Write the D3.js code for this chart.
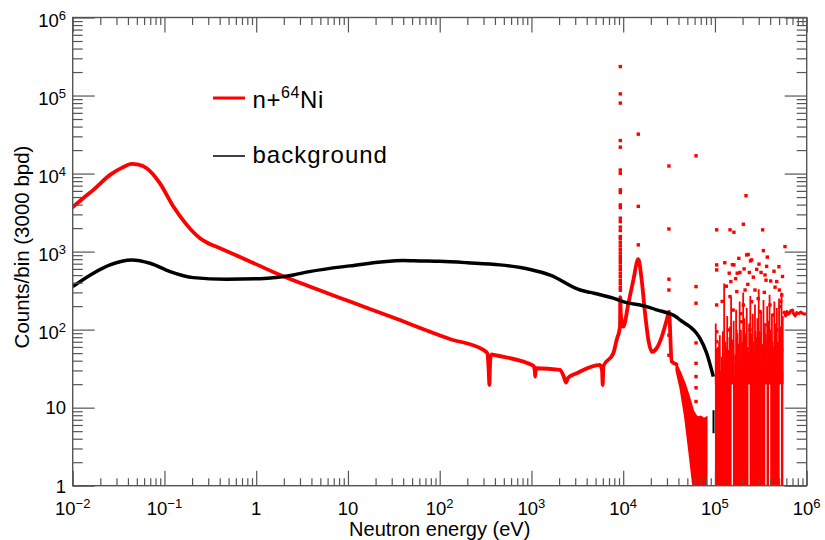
<!DOCTYPE html>
<html>
<head>
<meta charset="utf-8">
<script src="https://cdn.jsdelivr.net/npm/d3@7"></script>
<style>
  body { margin: 0; background: #fff; }
  svg { display: block; }
  text { font-family: "Liberation Sans", Arial, Helvetica, sans-serif; fill: #000; }
</style>
</head>
<body>
<div id="chart"></div>
<script>
// ---- n+64Ni, smooth part (energy in eV, counts/bin)
const redE = [0.01, 0.0135, 0.0168, 0.0255, 0.035, 0.044, 0.052, 0.064, 0.089, 0.125, 0.175, 0.244, 0.3, 0.403, 0.787, 1.82, 3.7, 10, 30,
  129, 299, 330, 342, 348, 352, 358, 370, 401, 1047, 1085, 1100, 1115, 2047, 2250, 2382, 2500, 3110, 5580, 5880, 5980, 6080,
  7800, 8490, 9230, 9300, 9400, 10000, 11400, 12900, 14600, 15900, 17300, 18800, 20500, 23200, 26300, 29800, 31500, 33800, 38000];
const redC = [3710, 5000, 6180, 9620, 12000, 13300, 13000, 11700, 7530, 3775, 2200, 1485, 1280, 1105, 783, 502, 363, 234, 145,
  76, 55, 50, 30, 19.5, 30, 45, 48, 47, 34.5, 30, 25, 32, 30.4, 25, 21, 24, 27.6, 35.3, 30, 19.5, 34,
  49.8, 74, 109, 260, 160, 109, 218, 432, 800, 432, 162, 74, 52, 58, 81, 133, 170, 39, 36];

// ---- n+64Ni, falling band 38-81 keV (upper / lower edge)
const bandE  = [38000, 42000, 47000, 52000, 58000, 64000, 70000, 76000, 81000];
const bandHi = [36, 28, 20, 14, 9, 7.5, 7.7, 7.2, 7.5];
const bandLo = [30, 18, 8, 3, 1, 1, 1, 1, 1];

// ---- n+64Ni, statistics-limited region 100-556 keV: dense bins (tops) ...
const hiE = [100e3, 103e3, 106e3, 109e3, 113e3, 116e3, 120e3, 123e3, 127e3, 131e3,
  135e3, 139e3, 143e3, 148e3, 152e3, 157e3, 162e3, 167e3, 172e3, 177e3,
  182e3, 188e3, 194e3, 200e3, 206e3, 212e3, 219e3, 225e3, 232e3, 239e3,
  247e3, 254e3, 262e3, 270e3, 278e3, 287e3, 296e3, 305e3, 314e3, 324e3,
  333e3, 344e3, 354e3, 365e3, 376e3, 388e3, 400e3, 412e3, 424e3, 437e3,
  451e3, 464e3, 479e3, 493e3, 508e3, 524e3, 540e3, 556e3];
const hiC = [28, 35, 22, 40, 30, 26, 45, 32, 24, 38,
  29, 34, 27, 42, 1, 30, 25, 36, 31, 22,
  48, 28, 33, 40, 26, 35, 30, 44, 1, 27,
  38, 24, 32, 41, 29, 35, 26, 50, 31, 37,
  28, 40, 1, 33, 25, 1, 45, 30, 36, 27,
  42, 29, 34, 38, 1, 26, 30, 1];
// ... and the taller single bins
const spikeE = [102e3, 108e3, 113e3, 118e3, 126e3, 130e3, 136e3, 141e3, 146e3, 150e3, 155e3, 160e3, 166e3, 170e3, 176e3,
  181e3, 186e3, 192e3, 198e3, 203e3, 209e3, 216e3, 222e3, 228e3, 236e3, 243e3, 250e3, 258e3, 265e3, 273e3, 281e3, 290e3,
  300e3, 309e3, 318e3, 328e3, 338e3, 350e3, 360e3, 371e3, 382e3, 394e3, 406e3, 418e3, 430e3, 444e3, 458e3, 472e3, 486e3,
  500e3, 516e3, 532e3, 548e3,
  105e3, 111e3, 122e3, 133e3, 144e3, 158e3, 173e3, 189e3, 206e3, 219e3, 233e3, 247e3, 262e3, 277e3, 295e3, 313e3,
  333e3, 355e3, 377e3, 400e3, 424e3, 451e3, 479e3, 508e3, 540e3];
const spikeC = [120, 60, 85, 45, 390, 70, 150, 55, 110, 260, 75, 130, 48, 180, 90,
  60, 230, 100, 70, 300, 140, 85, 190, 60, 120, 270, 90, 160, 55, 210, 80, 140,
  330, 95, 170, 65, 240, 110, 75, 200, 130, 280, 90, 160, 60, 230, 120, 190, 70,
  250, 110, 300, 150,
  55, 70, 95, 60, 80, 65, 100, 55, 75, 90, 50, 85, 70, 95, 60, 80,
  55, 90, 65, 100, 70, 85, 60, 95, 75];

// ---- n+64Ni above 556 keV
const tailE = [556000, 570000, 590000, 610000, 630000, 650000, 670000, 700000, 720000, 750000, 780000, 820000, 860000, 900000, 950000, 1000000];
const tailC = [160, 168, 150, 170, 158, 162, 175, 178, 160, 150, 165, 160, 168, 162, 158, 160];

// ---- n+64Ni, isolated bins drawn as markers
const dotE = [
  9300, 9300, 9300, 9300, 9300, 9300, 9300, 9300, 9300, 9300, 9300, 9300, 9300, 9300, 9300, 9300, 9300,
  9300, 9300, 9300, 9300, 9300, 9300, 9300, 9300, 9300, 9300, 9300, 9300, 9300, 9300, 9300,
  14600, 14600, 14600,
  31500, 31500, 31500, 31500, 31500, 31500,
  62200, 62200, 62200, 62200, 62200, 62200, 62200, 62200,
  104500, 104500, 104500, 104500, 104500, 104500, 104500,
  146000, 161000, 204000, 331000, 218000, 580000,
  222000, 251000, 161000, 337000, 143000, 175000, 187000, 237000, 285000, 366000, 351000, 471000, 149000, 213000,
  273000, 503000, 173000, 535000, 146000, 204000, 251000, 398000, 158000, 310000, 433000, 512000, 196000, 351000,
  140000, 241000, 471000, 382000, 285000, 180000, 152000, 337000, 535000, 222000, 416000, 165000, 273000, 491000,
  120000, 133000, 168000, 191000, 228000, 262000, 296000, 318000, 345000, 405000, 452000, 520000, 545000, 208000,
  128000, 155000, 182000, 244000, 302000, 372000, 440000, 498000, 230000, 360000];
const dotC = [
  235000, 105000, 80000, 26500, 21800, 11100, 10100, 6180, 5710, 3970, 3670, 2680, 2420, 2060, 1860, 1560, 1455,
  1300, 1180, 1060, 960, 870, 790, 720, 650, 590, 530, 480, 430, 390, 350, 320,
  32000, 3800, 1220,
  12500, 1950, 443, 322, 85, 47,
  16900, 356, 218, 67.6, 37, 25, 18, 12,
  1900, 676, 582, 207, 94, 70, 55,
  1900, 1770, 2240, 1900, 5200, 1160,
  907, 783, 676, 1030, 529, 529, 540, 540, 593, 647, 502, 413, 413, 322,
  322, 322, 307, 278, 265, 207, 228, 207, 178, 170, 154, 197, 126, 115,
  99, 99, 99, 81, 74, 63, 55, 52, 55, 43, 39, 33, 30, 27.6,
  230, 360, 450, 160, 380, 470, 250, 540, 300, 420, 350, 230, 480, 600,
  720, 680, 820, 760, 690, 850, 560, 640, 920, 430];

// ---- background
const bgE = [0.01, 0.0168, 0.0255, 0.044, 0.0697, 0.115, 0.206, 0.475, 1.1, 2.54, 3.8, 10.5, 40, 61, 100, 200, 454, 970, 1600,
  3400, 4370, 5600, 7800, 10000, 18000, 23200, 38300, 41600, 53400, 63000, 68700, 81300, 96000];
const bgC = [356, 529, 676, 783, 710, 554, 464, 443, 450, 502, 554, 656, 770, 760, 750, 720, 676, 590, 500,
  322, 300, 280, 253, 228, 197, 179, 144, 133, 109, 90, 77.5, 49.8, 25];
const bgEndE = [96500, 96500];
const bgEndC = [9.3, 4.7];

// ---- axes
const xTickLabels = [["10", "\u22122"], ["10", "\u22121"], ["1", ""], ["10", ""], ["10", "2"], ["10", "3"], ["10", "4"], ["10", "5"], ["10", "6"]];
const yTickLabels = [["1", ""], ["10", ""], ["10", "2"], ["10", "3"], ["10", "4"], ["10", "5"], ["10", "6"]];
const legendNames = ["n+", "background"];

const W = 825, H = 540;
const L = 72.7, R = 806.7, T = 17.5, B = 485.7;
const frameColor = "#555";
const red = "#ff0000";

const svg = d3.select("#chart").append("svg").attr("width", W).attr("height", H);

const x = d3.scaleLog().domain([1e-2, 1e6]).range([L, R]);
const y = d3.scaleLog().domain([1, 1e6]).range([B, T]);

svg.append("clipPath").attr("id", "plot").append("rect")
  .attr("x", L).attr("y", T).attr("width", R - L).attr("height", B - T);

const g = svg.append("g").attr("clip-path", "url(#plot)");

const zip = (a, b) => a.map((v, i) => [v, b[i]]);
const line = d3.line().x(d => x(d[0])).y(d => y(d[1]));
const smooth = d3.line().curve(d3.curveMonotoneX).x(d => x(d[0])).y(d => y(d[1]));

// red main curve
g.append("path").datum(zip(redE, redC))
  .attr("d", smooth).attr("fill", "none").attr("stroke", red)
  .attr("stroke-width", 3.8).attr("stroke-linejoin", "round").attr("stroke-linecap", "round");

// falling band
const band = bandE.map((e, i) => [e, bandLo[i], bandHi[i]]);
g.append("path").datum(band)
  .attr("d", d3.area().x(d => x(d[0])).y0(d => y(d[1])).y1(d => y(d[2])))
  .attr("fill", red).attr("stroke", red).attr("stroke-width", 2);

// high energy bins
const hiArea = d3.area().curve(d3.curveStepAfter)
  .x(d => x(d[0])).y0(y(1)).y1(d => y(d[1]));
g.append("path").datum(zip(hiE, hiC))
  .attr("d", hiArea).attr("fill", red);
g.selectAll("line.spike").data(zip(spikeE, spikeC)).join("line")
  .attr("class", "spike")
  .attr("x1", d => x(d[0])).attr("x2", d => x(d[0]))
  .attr("y1", y(20)).attr("y2", d => y(d[1]))
  .attr("stroke", red).attr("stroke-width", 1.8);

// tail
g.append("path").datum(zip(tailE, tailC))
  .attr("d", line).attr("fill", "none").attr("stroke", red)
  .attr("stroke-width", 3).attr("stroke-linejoin", "round");

// background
g.append("path").datum(zip(bgE, bgC))
  .attr("d", smooth).attr("fill", "none").attr("stroke", "#000")
  .attr("stroke-width", 3.5).attr("stroke-linejoin", "round");
g.append("path").datum(zip(bgEndE, bgEndC))
  .attr("d", line).attr("fill", "none").attr("stroke", "#000").attr("stroke-width", 2);

// markers
g.selectAll("rect.dot").data(zip(dotE, dotC)).join("rect")
  .attr("class", "dot")
  .attr("x", d => x(d[0]) - 1.7).attr("y", d => y(d[1]) - 1.7)
  .attr("width", 3.4).attr("height", 3.4).attr("fill", red);

// ---- frame and ticks
const decX = d3.range(-2, 7).map(p => Math.pow(10, p));
const decY = d3.range(0, 7).map(p => Math.pow(10, p));
const minors = decs => decs.slice(0, -1).flatMap(d => d3.range(2, 10).map(k => k * d));

function tickAxis(axisFn, scale, values, size, tx, ty) {
  const a = axisFn(scale).tickValues(values).tickSizeInner(-size).tickSizeOuter(0).tickFormat("");
  const sel = svg.append("g").attr("transform", `translate(${tx},${ty})`).call(a);
  sel.select(".domain").remove();
  sel.selectAll("line").attr("stroke", frameColor).attr("stroke-width", 1.2);
}
tickAxis(d3.axisBottom, x, decX, 15, 0, B);
tickAxis(d3.axisBottom, x, minors(decX), 7.5, 0, B);
tickAxis(d3.axisTop, x, decX, 15, 0, T);
tickAxis(d3.axisTop, x, minors(decX), 7.5, 0, T);
tickAxis(d3.axisLeft, y, decY, 22, L, 0);
tickAxis(d3.axisLeft, y, minors(decY), 10, L, 0);
tickAxis(d3.axisRight, y, decY, 22, R, 0);
tickAxis(d3.axisRight, y, minors(decY), 10, R, 0);

svg.append("rect").attr("x", L).attr("y", T).attr("width", R - L).attr("height", B - T)
  .attr("fill", "none").attr("stroke", frameColor).attr("stroke-width", 1.4);

// ---- tick labels
const xl = svg.append("g").selectAll("text").data(decX).join("text")
  .attr("x", d => x(d)).attr("y", 514.5).attr("text-anchor", "middle").attr("font-size", 18.5);
xl.append("tspan").text((d, i) => xTickLabels[i][0]);
xl.append("tspan").attr("font-size", 13).attr("dy", -7).text((d, i) => xTickLabels[i][1]);

const yl = svg.append("g").selectAll("text").data(decY).join("text")
  .attr("x", 66).attr("y", (d, i) => y(d) + (yTickLabels[i][1] ? 9.5 : 6.8))
  .attr("text-anchor", "end").attr("font-size", 18.5);
yl.append("tspan").text((d, i) => yTickLabels[i][0]);
yl.append("tspan").attr("font-size", 13).attr("dy", -7).text((d, i) => yTickLabels[i][1]);

// ---- axis titles
svg.append("text").attr("x", (L + R) / 2).attr("y", 536).attr("text-anchor", "middle")
  .attr("font-size", 20).text("Neutron energy (eV)");
svg.append("text").attr("transform", `translate(28.5,247) rotate(-90)`).attr("text-anchor", "middle")
  .attr("font-size", 20.5).text("Counts/bin (3000 bpd)");

// ---- legend
const leg = svg.append("g");
leg.append("line").attr("x1", 213).attr("x2", 245).attr("y1", 98).attr("y2", 98)
  .attr("stroke", red).attr("stroke-width", 3);
const t1 = leg.append("text").attr("x", 252.5).attr("y", 108).attr("font-size", 24).attr("letter-spacing", 0.6);
t1.append("tspan").text(legendNames[0]);
t1.append("tspan").attr("font-size", 16).attr("dy", -10).text("64");
t1.append("tspan").attr("dy", 10).text("Ni");
leg.append("line").attr("x1", 213).attr("x2", 245).attr("y1", 156).attr("y2", 156)
  .attr("stroke", "#000").attr("stroke-width", 1.5);
leg.append("text").attr("x", 252.5).attr("y", 163).attr("font-size", 24).attr("letter-spacing", 1)
  .text(legendNames[1]);
</script>
</body>
</html>
